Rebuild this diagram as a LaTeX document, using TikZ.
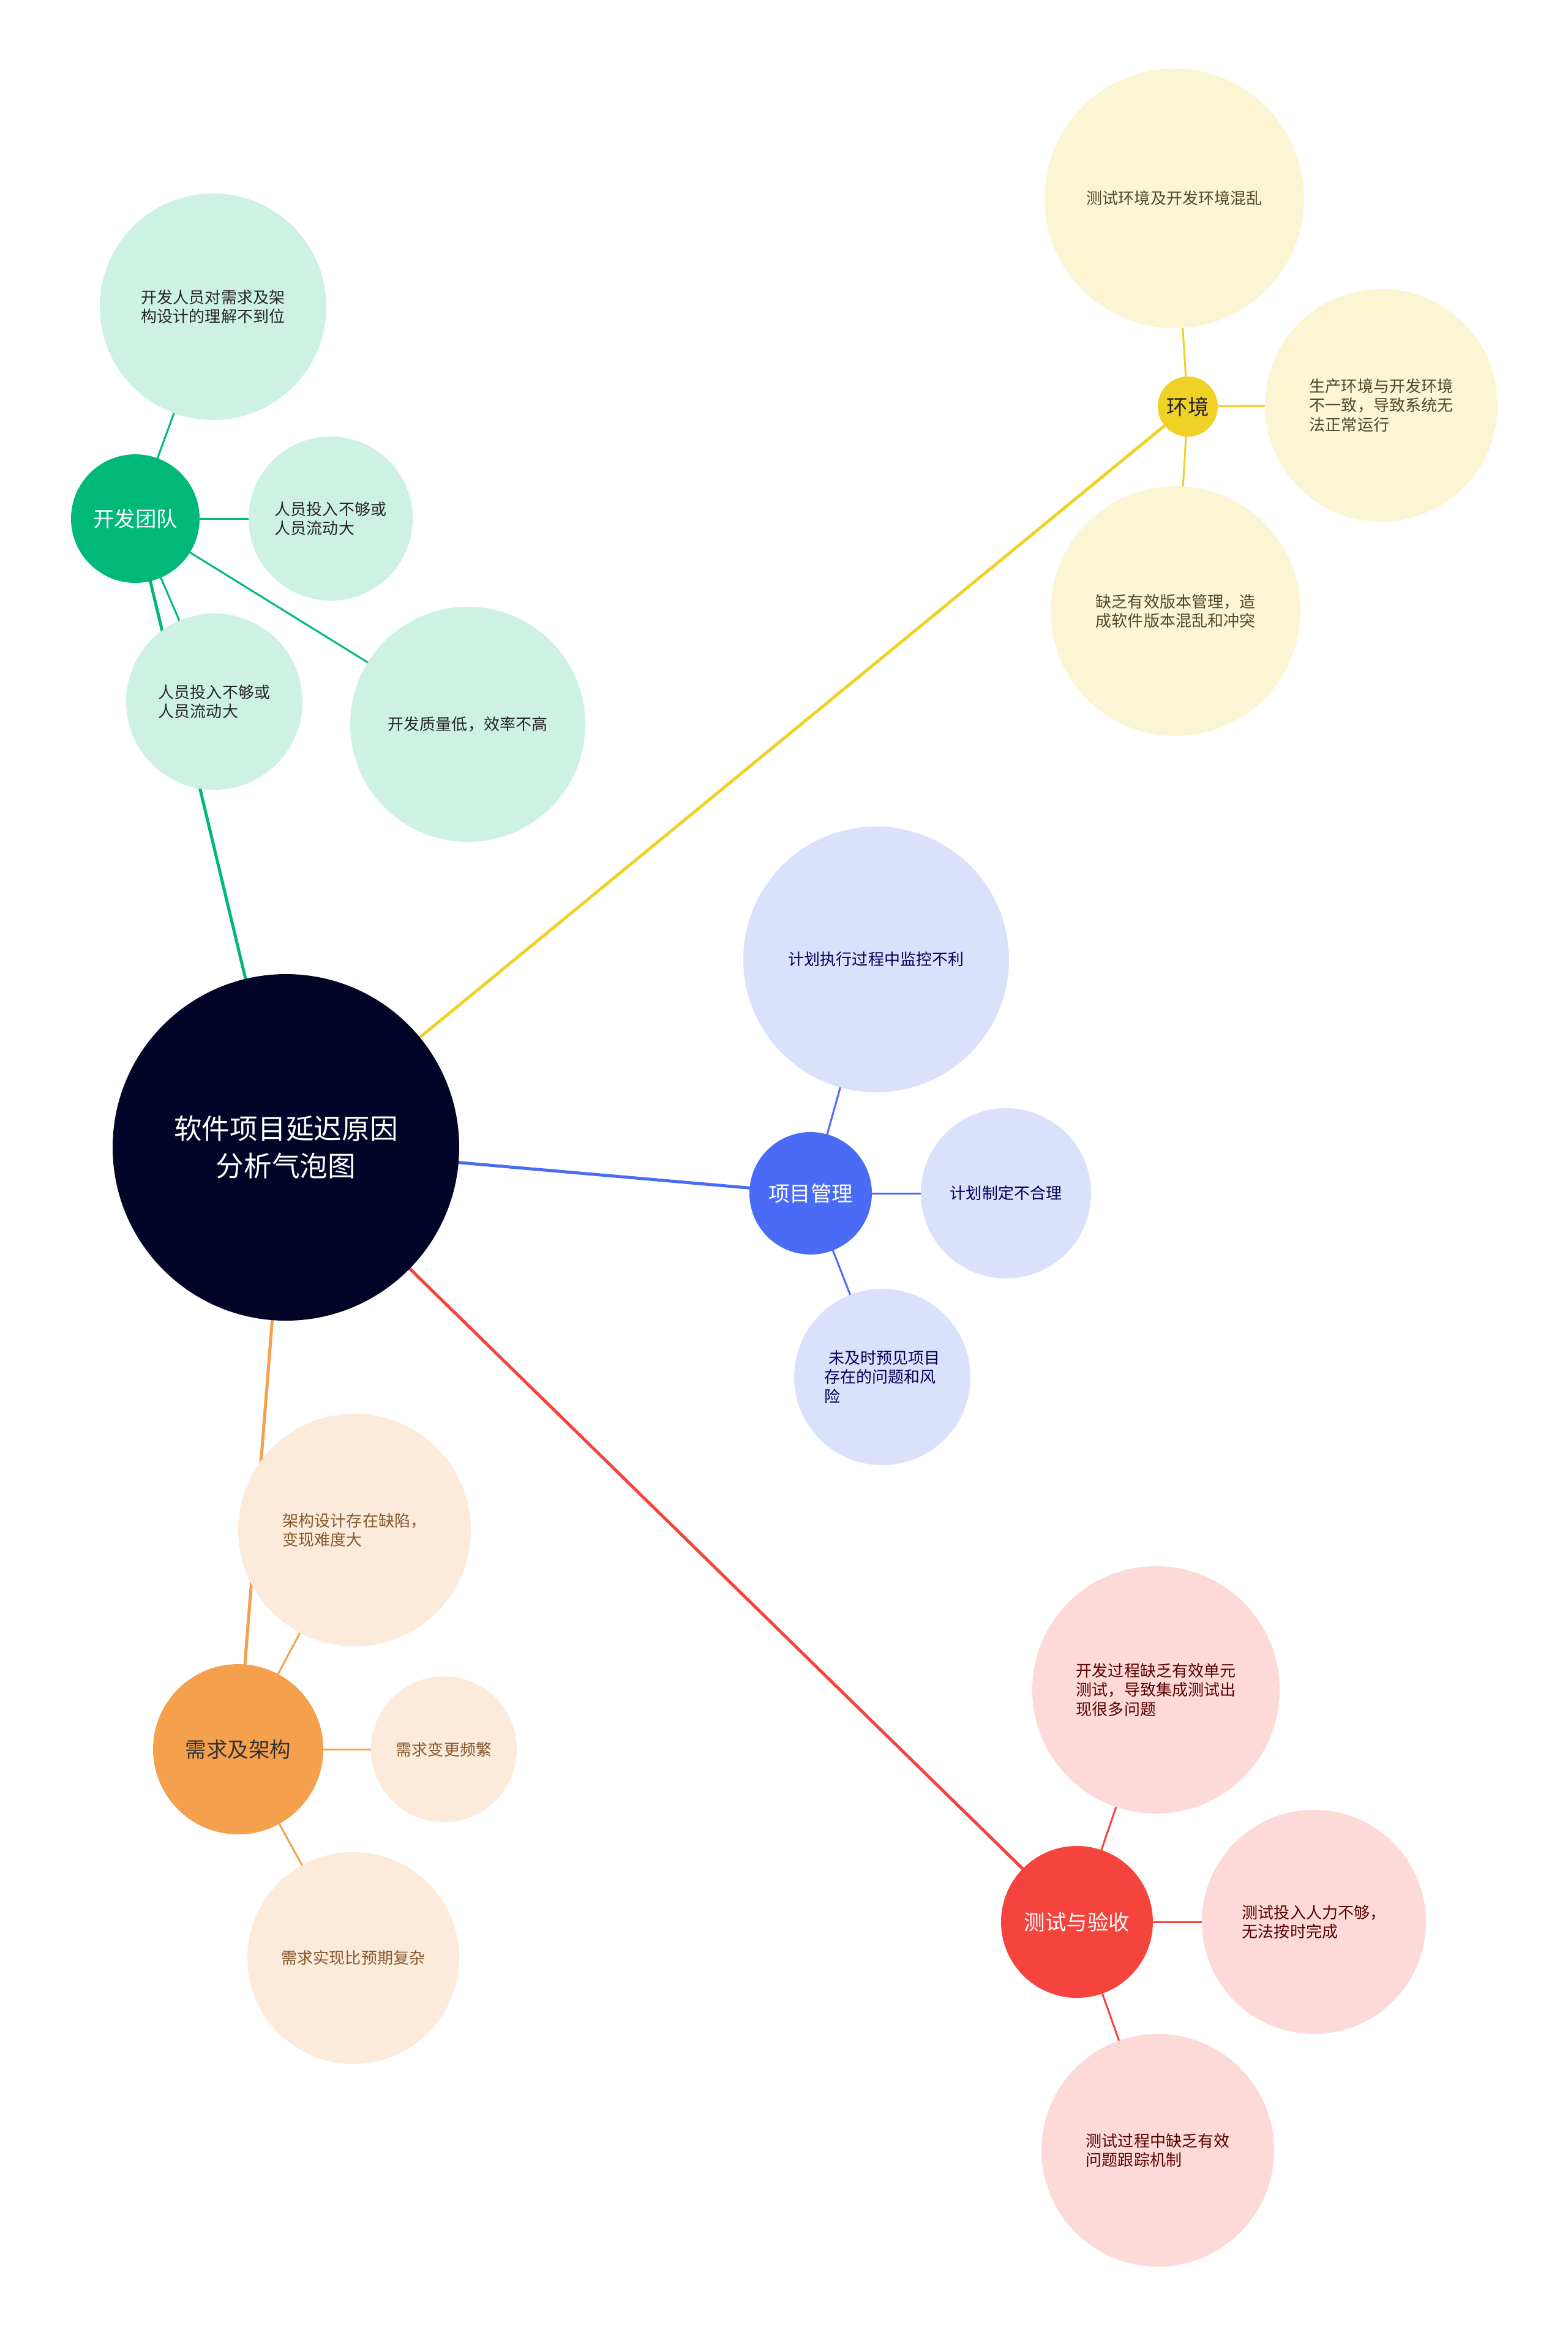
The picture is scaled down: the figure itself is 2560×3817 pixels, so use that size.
\documentclass[tikz,border=0pt]{standalone}
\usepackage{fontspec}
\setmainfont{Noto Sans CJK SC}
\usetikzlibrary{positioning}

\definecolor{rootc}{HTML}{020527}
\definecolor{teamc}{HTML}{00B978}
\definecolor{teaml}{HTML}{CDF1E3}
\definecolor{envc}{HTML}{F0D126}
\definecolor{envl}{HTML}{FCF5D3}
\definecolor{pmc}{HTML}{4A6BF6}
\definecolor{pml}{HTML}{DCE1FB}
\definecolor{reqc}{HTML}{F4A04D}
\definecolor{reql}{HTML}{FCEADB}
\definecolor{testc}{HTML}{F5433E}
\definecolor{testl}{HTML}{FDD9D8}

\pgfdeclarelayer{bg}
\pgfsetlayers{bg,main}

\begin{document}
\begin{tikzpicture}[
    x=0.1mm, y=-0.1mm,
    bubble/.style={circle, inner sep=0pt, align=left,
      font=\fontsize{7.4}{9}\selectfont},
    hub/.style={circle, inner sep=0pt, align=center,
      font=\fontsize{9.8}{12}\selectfont},
    trunk/.style={line width=0.5mm},
    twig/.style={line width=0.3mm}
  ]
    \useasboundingbox (0,0) rectangle (2560,3817);

    % centre
    \node[hub, fill=rootc, text=white, minimum size=56.6mm,
      font=\fontsize{13}{17.3}\selectfont] (root) at (467,1874)
      {软件项目延迟原因\\分析气泡图};

    % 开发团队
    \node[hub, fill=teamc, text=white, minimum size=21mm] (team) at (221,847) {开发团队};
    \node[bubble, fill=teaml, text=black!85, minimum size=37mm] (teamA) at (348,501)
      {开发人员对需求及架\\构设计的理解不到位};
    \node[bubble, fill=teaml, text=black!85, minimum size=26.8mm] (teamB) at (540,847)
      {人员投入不够或\\人员流动大};
    \node[bubble, fill=teaml, text=black!85, minimum size=28.8mm] (teamC) at (350,1146)
      {人员投入不够或\\人员流动大};
    \node[bubble, fill=teaml, text=black!85, minimum size=38.4mm] (teamD) at (764,1183)
      {开发质量低，效率不高};

    % 环境
    \node[hub, fill=envc, text=black!85, minimum size=9.8mm] (env) at (1940,664) {环境};
    \node[bubble, fill=envl, text=olive!40!black, minimum size=42.4mm] (envA) at (1918,324)
      {测试环境及开发环境混乱};
    \node[bubble, fill=envl, text=olive!40!black, minimum size=38mm] (envB) at (2256,662)
      {生产环境与开发环境\\不一致，导致系统无\\法正常运行};
    \node[bubble, fill=envl, text=olive!40!black, minimum size=40.8mm] (envC) at (1920,998)
      {缺乏有效版本管理，造\\成软件版本混乱和冲突};

    % 项目管理
    \node[hub, fill=pmc, text=white, minimum size=20mm] (pm) at (1324,1949) {项目管理};
    \node[bubble, fill=pml, text=blue!35!black, minimum size=43.4mm] (pmA) at (1431,1567)
      {计划执行过程中监控不利};
    \node[bubble, fill=pml, text=blue!35!black, minimum size=27.8mm] (pmB) at (1643,1949)
      {计划制定不合理};
    \node[bubble, fill=pml, text=blue!35!black, minimum size=28.8mm] (pmC) at (1441,2249)
      {\hspace{0.3em}未及时预见项目\\存在的问题和风\\险};

    % 需求及架构
    \node[hub, fill=reqc, text=black!80, minimum size=27.8mm] (req) at (389,2857) {需求及架构};
    \node[bubble, fill=reql, text=brown!70!black, minimum size=38mm] (reqA) at (579,2499)
      {架构设计存在缺陷，\\变现难度大};
    \node[bubble, fill=reql, text=brown!70!black, minimum size=23.8mm] (reqB) at (725,2857)
      {需求变更频繁};
    \node[bubble, fill=reql, text=brown!70!black, minimum size=34.6mm] (reqC) at (577,3198)
      {需求实现比预期复杂};

    % 测试与验收
    \node[hub, fill=testc, text=white, minimum size=24.8mm] (test) at (1759,3139) {测试与验收};
    \node[bubble, fill=testl, text=red!35!black, minimum size=40.4mm] (testA) at (1888,2760)
      {开发过程缺乏有效单元\\测试，导致集成测试出\\现很多问题};
    \node[bubble, fill=testl, text=red!35!black, minimum size=36.6mm] (testB) at (2146,3139)
      {测试投入人力不够，\\无法按时完成};
    \node[bubble, fill=testl, text=red!35!black, minimum size=38mm] (testC) at (1891,3512)
      {测试过程中缺乏有效\\问题跟踪机制};

    \begin{pgfonlayer}{bg}
      \fill[white] (0,0) rectangle (2560,3817);
      \draw[trunk, draw=teamc] (root.center) -- (team.center);
      \draw[trunk, draw=envc] (root.center) -- (env.center);
      \draw[trunk, draw=pmc] (root.center) -- (pm.center);
      \draw[trunk, draw=reqc] (root.center) -- (req.center);
      \draw[trunk, draw=testc] (root.center) -- (test.center);
      \foreach \leaf in {teamA,teamB,teamC,teamD}
        \draw[twig, draw=teamc] (team.center) -- (\leaf.center);
      \foreach \leaf in {envA,envB,envC}
        \draw[twig, draw=envc] (env.center) -- (\leaf.center);
      \foreach \leaf in {pmA,pmB,pmC}
        \draw[twig, draw=pmc] (pm.center) -- (\leaf.center);
      \foreach \leaf in {reqA,reqB,reqC}
        \draw[twig, draw=reqc] (req.center) -- (\leaf.center);
      \foreach \leaf in {testA,testB,testC}
        \draw[twig, draw=testc] (test.center) -- (\leaf.center);
    \end{pgfonlayer}
  \end{tikzpicture}
\end{document}
